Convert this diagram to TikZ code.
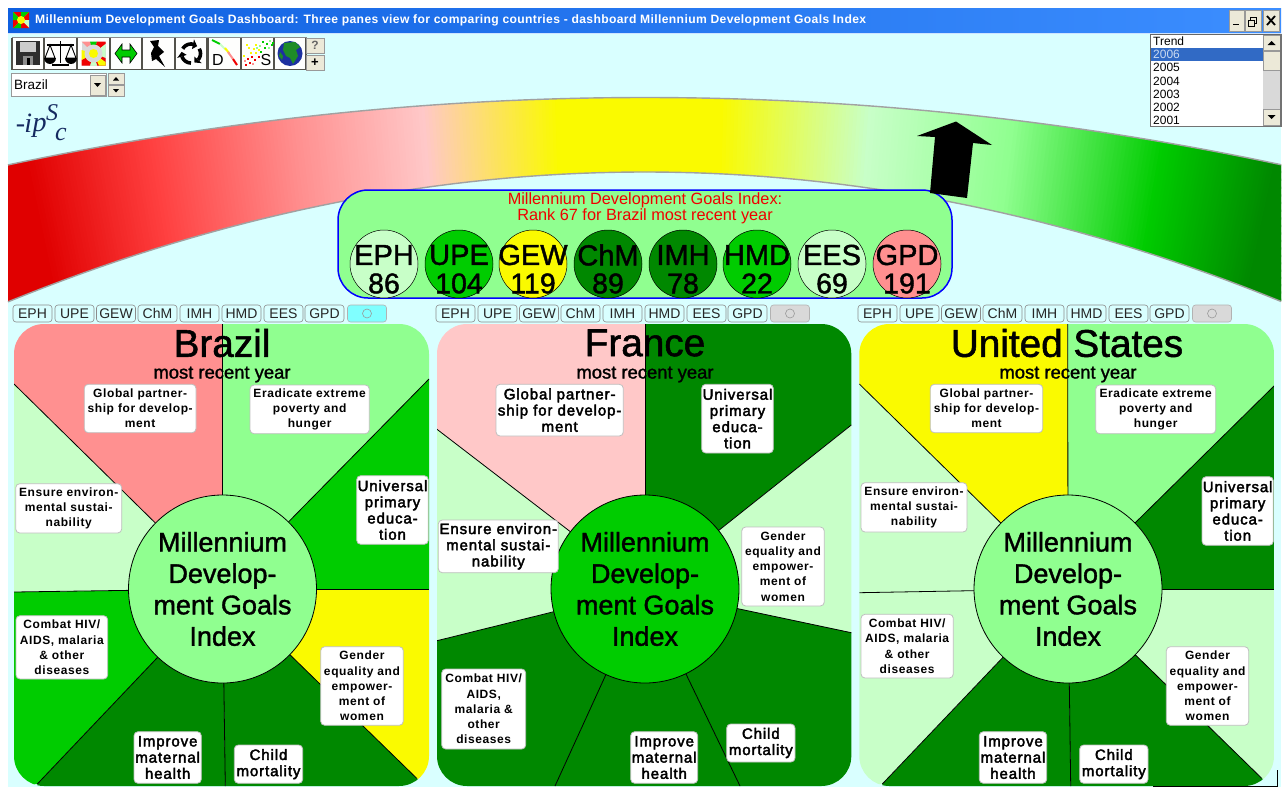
\documentclass[tikz,border=0pt]{standalone}
\usepackage{fontspec}
\setmainfont{Liberation Sans}
\newfontfamily\logofont{Liberation Serif}
\newfontfamily\heavyfont[FakeBold=1.4]{Liberation Sans}
\newfontfamily\midfont[FakeBold=2.6,LetterSpace=6]{Liberation Sans}
\newfontfamily\smallfont[LetterSpace=5]{Liberation Sans}
\newfontfamily\titlefont[LetterSpace=3]{Liberation Sans}
\usetikzlibrary{calc}
\definecolor{bgc}{HTML}{D9FFFF}
\definecolor{gpink}{HTML}{FF9090}
\definecolor{lpink}{HTML}{FFC8C8}
\definecolor{lgreen}{HTML}{C8FFC8}
\definecolor{mgreen}{HTML}{90FF90}
\definecolor{cgreen}{HTML}{00CC00}
\definecolor{dgreen}{HTML}{008800}
\definecolor{yel}{HTML}{FAFA00}
\definecolor{red0}{HTML}{E00000}
\definecolor{red1}{HTML}{FF4040}
\definecolor{pure}{HTML}{F00000}
\definecolor{winb}{HTML}{ECE9D8}
\definecolor{tbl}{HTML}{0F60E0}
\definecolor{tbr}{HTML}{3C8EFF}
\definecolor{sel}{HTML}{316AC5}
\definecolor{navy}{HTML}{152A60}
\definecolor{radio}{HTML}{80FFFF}
\definecolor{leaf}{HTML}{1E8C28}
\definecolor{sea}{HTML}{1C30A0}
\newcommand\fsz[2]{\fontsize{#1}{#2}\selectfont}
\tikzset{
  labbox/.style={draw=black!25,line width=.8pt,fill=white,rounded corners=4pt,inner sep=0pt,outer sep=0pt,align=center},
  smalllab/.style={labbox,font=\smallfont\fsz{12}{15.2}\bfseries},
  midlab/.style={labbox,font=\midfont\fsz{15}{16.2}\selectfont},
  hub/.style={circle,draw=black,line width=.8pt,minimum size=188pt,inner sep=0pt,align=center,font=\heavyfont\fsz{27}{31.4}\selectfont},
  spoke/.style={draw=black,line width=.8pt},
  goal/.style={circle,draw=black,line width=.5pt,minimum size=68pt,inner sep=0pt},
  goaltxt/.style={inner sep=0pt,font=\heavyfont\fsz{29}{29}\selectfont},
  goalnum/.style={inner sep=0pt,font=\heavyfont\fsz{28.5}{28.5}\selectfont},
  tabbtn/.style={draw=black!45,line width=.6pt,rounded corners=3pt,minimum width=39pt,minimum height=17pt,inner sep=0pt,outer sep=0pt,font=\fsz{14}{14}\selectfont,text=black!85},
  radiobtn/.style={tabbtn,draw=black!30},
  tool/.style={draw=black!45,fill=white!94!winb,line width=.6pt,minimum width=32pt,minimum height=32pt,inner sep=0pt,outer sep=0pt},
  winbtn/.style={draw=black!40,fill=winb,line width=.5pt,inner sep=0pt,outer sep=0pt},
  paneltitle/.style={inner sep=0pt,font=\heavyfont\fsz{38.7}{38.7}\selectfont},
  panelsub/.style={inner sep=0pt,font=\heavyfont\fsz{18.4}{18.4}\selectfont},
  yearrow/.style={inner sep=0pt,anchor=west,font=\fsz{12}{12}\selectfont},
  logoglyph/.style={inner sep=0pt,text=navy,font=\fsz{28}{28}\logofont\itshape}
}
\newcommand\lab[7]{%
  \pgfmathsetmacro\lcx{(#2+#4)/2}\pgfmathsetmacro\lcy{(#3+#5)/2}%
  \pgfmathsetmacro\lw{#4-#2}\pgfmathsetmacro\lh{#5-#3}%
  \node[#6,minimum width=\lw pt,minimum height=\lh pt] (#1) at (\lcx,\lcy) {#7};}
\newcommand\bandseg[4]{%
  \foreach \k in {0,...,40}{%
    \pgfmathsetmacro\xa{#1+(#2-#1)*\k/40}%
    \pgfmathsetmacro\xb{\xa+(#2-#1)/40+2}%
    \pgfmathsetmacro\pp{2.5*\k}%
    \fill[#4!\pp!#3] (645,3107.5) -- (\xa,90) -- (\xb,90) -- cycle;}}
\newcommand\tabrow[2]{%
  \foreach \t/\xx in {EPH/32.5,UPE/74.5,GEW/116,ChM/157.5,IMH/199.5,HMD/241.5,EES/283.5,GPD/324.5}{%
    \node[tabbtn] (tab#1\t) at ({\xx+#1},313.5) {\t};}
  \node[radiobtn,fill=#2] (tab#1o) at ({367+#1},313.5) {};
  \draw[black!40,line width=.6pt] (tab#1o.center) circle (4.5pt);}
\begin{document}
\begin{tikzpicture}[x=1pt,y=-1pt]
\useasboundingbox (0,0) rectangle (1284,787);
\fill[white] (0,0) rectangle (1284,787);
\fill[bgc] (8,33) rectangle (1281,787);
\shade[left color=tbl,right color=tbr] (8,8) rectangle (1281,33);
\draw[white!75!tbr,line width=1pt] (8,33) -- (1281,33);
\begin{scope}
\clip plot[domain=8:1281,samples=70] (\x,{97.5+1.661*((\x-645)/100)*((\x-645)/100)})
   -- plot[domain=1281:8,samples=70] (\x,{172+3.2*((\x-645)/100)*((\x-645)/100)}) -- cycle;
\fill[red0] (0,90) rectangle (20,310);
\bandseg{-70}{10}{red0}{red0}
\bandseg{10}{140}{red0}{red1}
\bandseg{140}{290}{red1}{gpink}
\bandseg{290}{420}{gpink}{lpink}
\bandseg{420}{555}{lpink}{yel}
\bandseg{555}{720}{yel}{yel}
\bandseg{720}{870}{yel}{lgreen}
\bandseg{870}{1015}{lgreen}{mgreen}
\bandseg{1015}{1170}{mgreen}{cgreen}
\bandseg{1170}{1290}{cgreen}{dgreen}
\bandseg{1290}{1360}{dgreen}{dgreen}
\end{scope}
\draw[black!37,line width=1.4pt] plot[domain=8:1281,samples=70] (\x,{97.5+1.661*((\x-645)/100)*((\x-645)/100)});
\draw[black!37,line width=1.4pt] plot[domain=8:1281,samples=70] (\x,{172+3.2*((\x-645)/100)*((\x-645)/100)});
\node[anchor=west,inner sep=0pt,text=white,font=\titlefont\fsz{12.13}{12}\bfseries] (wintitle) at (35,20.5) {Millennium Development Goals Dashboard: Three panes view for comparing countries - dashboard Millennium Development Goals Index};
% app icon
\fill[yel] (13,12) rectangle (29,28);
\fill[pure] (13,12) -- (21,20) -- (21,12) -- cycle;
\fill[cgreen] (21,12) -- (21,20) -- (29,12) -- cycle;
\fill[pure] (29,12) -- (21,20) -- (29,20) -- cycle;
\fill[lgreen] (29,20) -- (21,20) -- (29,28) -- cycle;
\fill[pure] (29,28) -- (21,20) -- (21,28) -- cycle;
\fill[cgreen] (21,28) -- (21,20) -- (13,28) -- cycle;
\fill[pure] (13,28) -- (21,20) -- (13,20) -- cycle;
\fill[cgreen] (13,20) -- (21,20) -- (13,12) -- cycle;
\fill[yel] (21,20) circle (4pt);
\lab{wmin}{1229}{10}{1244}{31}{winbtn}{}
\lab{wrest}{1245}{10}{1261}{31}{winbtn}{}
\lab{wclose}{1263}{10}{1279}{31}{winbtn}{}
\draw[black,line width=1.6pt] (1233,24.5) -- (1239,24.5);
\draw[black,line width=.8pt] (1250.5,17) rectangle (1256.5,23.5);
\fill[winb,draw=black,line width=.8pt] (1248,20) rectangle (1254,26);
\draw[black,line width=1.8pt] (1267,16) -- (1275,25) (1275,16) -- (1267,25);
% toolbar
\foreach \n/\xx in {save/28,scales/60.5,flower/93.5,swap/126,pin/158.5,recycle/191,dplot/224.5,splot/257.5,globe/290}{
  \node[tool] (\n) at (\xx,53.5) {};
  \draw[black!65!winb,line width=1.4pt] (\n.north west) -- (\n.south west) -- (\n.south east) -- (\n.north east);
}
\fill[black!82] (16,41) rectangle (40,65);
\fill[black!20] (20,42) rectangle (36,52);
\fill[black!45] (23,56) rectangle (33,65);
\fill[black] (27,58) rectangle (30,65);
\draw[black,line width=1.6pt] (60.5,41) -- (60.5,63);
\draw[black,line width=1.6pt] (47,45) -- (74,45);
\fill[black] (52,64) rectangle (69,66);
\draw[black,line width=.9pt] (50,45) -- (45,58) -- (55,58) -- cycle;
\draw[black,line width=.9pt] (71,45) -- (66,58) -- (76,58) -- cycle;
\fill[black] (44,58) arc[start angle=180,end angle=360,radius=6pt] -- cycle;
\fill[black] (65,58) arc[start angle=180,end angle=360,radius=6pt] -- cycle;
\fill[black!15] (81.5,41.5) rectangle (105.5,65.5);
\fill[gpink] (93.5,53.5) -- (81.5,41.5) -- (90,41.5) -- cycle;
\fill[cgreen] (93.5,53.5) -- (90,41.5) -- (97,41.5) -- cycle;
\fill[pure] (93.5,53.5) -- (97,41.5) -- (105.5,41.5) -- (105.5,44) -- cycle;
\fill[lgreen] (93.5,53.5) -- (105.5,44) -- (105.5,58) -- cycle;
\fill[pure] (93.5,53.5) -- (105.5,58) -- (105.5,65.5) -- (97,65.5) -- cycle;
\fill[yel] (93.5,53.5) -- (105.5,62) -- (105.5,65.5) -- (99,65.5) -- cycle;
\fill[lgreen] (93.5,53.5) -- (97,65.5) -- (90,65.5) -- cycle;
\fill[pure] (93.5,53.5) -- (90,65.5) -- (81.5,65.5) -- (81.5,60) -- cycle;
\fill[yel] (93.5,53.5) -- (81.5,60) -- (81.5,50) -- cycle;
\fill[black!15] (93.5,53.5) circle (9pt);
\fill[yel] (93.5,53.5) circle (4.5pt);
\fill[cgreen,draw=black,line width=.6pt] (115,53.5) -- (122,44) -- (122,50) -- (130,50) -- (130,44) -- (137,53.5) -- (130,63) -- (130,57) -- (122,57) -- (122,63) -- cycle;
% pin
\fill[black] (150,41) -- (159,40) -- (158,46) -- (164,52) -- (159,56) -- (165,67) -- (156,59) -- (152,61) -- (151,53) -- (154,47) -- cycle;
% recycle
\foreach \a in {-30,90,210}{
  \draw[black,line width=3.6pt] plot[domain=\a:\a+72,samples=8] ({191+9.5*cos(\x)},{53.5+9.5*sin(\x)});
  \fill[black] ({191+14.5*cos(\a+72)},{53.5+14.5*sin(\a+72)}) -- ({191+4.5*cos(\a+72)},{53.5+4.5*sin(\a+72)}) -- ({191+9.5*cos(\a+100)},{53.5+9.5*sin(\a+100)}) -- cycle;
}
\draw[cgreen,line width=2pt] (212,40) -- (220,44);
\draw[lgreen,line width=2pt] (220,44) -- (226,50);
\draw[yel,line width=2pt] (225,48) -- (229,53);
\draw[gpink,line width=2pt] (228,52) -- (233,59);
\draw[pure,line width=2pt] (233,59) -- (237,65);
\node[inner sep=0pt,font=\fsz{16}{16}\selectfont] (dlet) at (218,60) {D};
\foreach \px/\py/\c in {262/41/cgreen,266/43/cgreen,269/40/mgreen,271/44/cgreen,259/45/mgreen,264/47/cgreen,268/47/mgreen,272/42/cgreen,255/44/yel,258/49/yel,253/48/yel,250/52/yel,255/52/yel,260/51/cgreen,248/47/yel,246/44/yel,251/56/pure,247/58/pure,244/60/gpink,249/62/pure,254/59/pure,245/64/pure,252/63/gpink,258/56/pure,243/55/yel,256/47/mgreen}{
  \fill[\c] (\px,\py) rectangle ++(1.6,1.6);
}
\node[inner sep=0pt,font=\fsz{16}{16}\selectfont] (slet) at (266,60) {S};
\fill[sea] (290,53.5) circle (12.5pt);
\fill[leaf] (284,43) -- (295,42) -- (300,47) -- (296,50) -- (298,56) -- (293,64) -- (290,58) -- (286,56) -- (283,50) -- cycle;
\fill[leaf] (280,52) -- (283,56) -- (282,60) -- (279,56) -- cycle;
\lab{hlp}{306}{38}{324}{53}{winbtn,font=\fsz{12}{12}\bfseries,text=black!60}{?}
\lab{plusb}{306}{55}{324}{70}{winbtn,font=\fsz{13}{13}\bfseries}{+}
\lab{combo}{11}{73}{106}{96}{draw=black!40,fill=white,line width=.8pt,inner sep=0pt}{}
\node[anchor=west,inner sep=0pt,font=\fsz{13.5}{13.5}\selectfont] (country) at (14,85) {Brazil};
\lab{comboarrow}{90}{75}{105}{95}{winbtn}{}
\fill[black] (94,83) -- (101,83) -- (97.5,87) -- cycle;
\lab{spinup}{108}{73}{124}{84}{winbtn}{}
\lab{spindn}{108}{85}{124}{96}{winbtn}{}
\fill[black] (113,80.5) -- (119,80.5) -- (116,77) -- cycle;
\fill[black] (113,89) -- (119,89) -- (116,92.5) -- cycle;
% logo
\node[logoglyph] (logoi) at (24,123) {-\kern-1pt i};
\node[logoglyph] (logop) at (39.5,128) {p};
\node[logoglyph,font=\fsz{24}{24}\logofont\itshape] (logos) at (52,113) {S};
\node[logoglyph,font=\fsz{26}{26}\logofont\itshape] (logoc) at (61,134) {c};
% year list
\draw[black!60,line width=1pt,fill=white] (1150.5,34.5) rectangle (1280.5,126.5);
\fill[sel] (1151,47.5) rectangle (1263,60.5);
\foreach \y/\yr/\c in {41/Trend/black,54/2006/white!75!sel,67.5/2005/black,81/2004/black,94/2003/black,107/2002/black,120/2001/black}{
  \node[yearrow,text=\c] (yr\yr) at (1153,\y) {\yr};
}
\fill[white!85!black] (1263,35) rectangle (1280,125);
\lab{sup}{1263}{35}{1280}{50}{winbtn}{}
\lab{sth}{1263}{51}{1280}{70}{winbtn}{}
\lab{sdn}{1263}{109}{1280}{125}{winbtn}{}
\fill[black] (1267.5,45) -- (1275.5,45) -- (1271.5,41) -- cycle;
\fill[black] (1267.5,115) -- (1275.5,115) -- (1271.5,119) -- cycle;
\draw[black!55,line width=1.2pt] (1150,126.5) -- (1281,126.5) -- (1281,34);
% summary panel
\node[draw=blue,fill=mgreen,line width=1.5pt,rounded corners=30pt,minimum width=614pt,minimum height=108pt,inner sep=0pt] (summary) at (645,244) {};
\node[inner sep=0pt,align=center,text=pure,font=\fsz{16.3}{14.2}\selectfont] (sumtitle) at (645,208.5) {Millennium Development Goals Index:\\Rank 67 for Brazil most recent year};
\foreach \t/\n/\xx/\c in {EPH/86/384/lgreen,UPE/104/459/cgreen,GEW/119/533/yel,ChM/89/608/dgreen,IMH/78/683/dgreen,HMD/22/757/cgreen,EES/69/832/lgreen,GPD/191/907/gpink}{
  \node[goal,fill=\c] (g\t) at (\xx,264) {};
  \node[goaltxt] (t\t) at (\xx,255) {\t};
  \node[goalnum] (n\t) at (\xx,283.5) {\n};
}
\fill[black] (956,121.5) -- (992,145) -- (973,143) -- (967,198) -- (930,193) -- (935,137) -- (917,136) -- cycle;
\tabrow{0}{radio}
\tabrow{423}{black!15}
\tabrow{845}{black!15}
% ---------- Brazil
\coordinate (c1) at (222.5,589);
\begin{scope}
\clip[rounded corners=30pt] (14,324) rectangle (429,786);
\fill[gpink] (c1) -- (222.5,324) -- (14,324) -- (14,384) -- cycle;
\fill[mgreen] (c1) -- (222.5,324) -- (429,324) -- (429,379) -- cycle;
\fill[cgreen] (c1) -- (429,379) -- (429,589) -- cycle;
\fill[yel] (c1) -- (429,589) -- (429,786) -- (416.7,778.3) -- cycle;
\fill[dgreen] (c1) -- (416.7,778.3) -- (429,786) -- (225.3,786) -- cycle;
\fill[dgreen] (c1) -- (225.3,786) -- (37.3,786) -- (37.3,784) -- cycle;
\fill[cgreen] (c1) -- (37.3,784) -- (14,786) -- (14,592) -- cycle;
\fill[lgreen] (c1) -- (14,592) -- (14,384) -- cycle;
\foreach \e in {(222.5,324),(429,379),(429,589),(416.7,778.3),(225.3,786),(37.3,784),(14,592),(14,384)}{\draw[spoke] (c1) -- \e;}
\end{scope}
\node[paneltitle] (p1t) at (222,343) {Brazil};
\node[panelsub] (p1s) at (222,374.5) {most recent year};
\node[hub,fill=mgreen] (hub1) at (c1) {Millennium\\Develop-\\ment Goals\\Index};
\lab{b1}{84.3}{384.3}{196}{432.7}{smalllab}{Global partner-\\ship for develop-\\ment}
\lab{b2}{250}{385}{369.3}{433.7}{smalllab}{Eradicate extreme\\poverty and\\hunger}
\lab{b3}{356.7}{475.7}{428.3}{544.3}{midlab}{Universal\\primary\\educa-\\tion}
\lab{b4}{320.7}{646.7}{403.3}{725.3}{smalllab}{Gender\\equality and\\empower-\\ment of\\women}
\lab{b5}{234.3}{745}{302.7}{783.3}{midlab}{Child\\mortality}
\lab{b6}{134}{731.7}{201.3}{783.3}{midlab}{Improve\\maternal\\health}
\lab{b7}{16}{615.7}{107.7}{679}{smalllab}{Combat HIV/\\AIDS, malaria\\\& other\\diseases}
\lab{b8}{15.7}{483.7}{121.7}{533}{smalllab}{Ensure environ-\\mental sustai-\\nability}
% ---------- France
\coordinate (c2) at (645,589);
\begin{scope}
\clip[rounded corners=30pt] (437,324) rectangle (851.3,786);
\fill[lpink] (c2) -- (645,324) -- (437,324) -- (437,429.3) -- cycle;
\fill[dgreen] (c2) -- (645,324) -- (851.3,324) -- (851.3,425) -- cycle;
\fill[lgreen] (c2) -- (851.3,425) -- (851.3,632.7) -- cycle;
\fill[dgreen] (c2) -- (851.3,632.7) -- (851.3,786) -- (740,786) -- cycle;
\fill[dgreen] (c2) -- (740,786) -- (555,786) -- cycle;
\fill[dgreen] (c2) -- (555,786) -- (437,786) -- (437,640.7) -- cycle;
\fill[lgreen] (c2) -- (437,640.7) -- (437,429.3) -- cycle;
\foreach \e in {(645,324),(851.3,425),(851.3,632.7),(740,786),(555,786),(437,640.7),(437,429.3)}{\draw[spoke] (c2) -- \e;}
\end{scope}
\node[paneltitle] (p2t) at (645,343) {France};
\node[panelsub] (p2s) at (645,374.5) {most recent year};
\node[hub,fill=cgreen] (hub2) at (c2) {Millennium\\Develop-\\ment Goals\\Index};
\lab{f1}{496}{384.3}{623.3}{436}{midlab}{Global partner-\\ship for develop-\\ment}
\lab{f3}{701.7}{384.3}{773.3}{453}{midlab}{Universal\\primary\\educa-\\tion}
\lab{f4}{741.7}{527}{824.3}{606}{smalllab}{Gender\\equality and\\empower-\\ment of\\women}
\lab{f5}{726.7}{724}{795}{762}{midlab}{Child\\mortality}
\lab{f6}{630.7}{731.7}{697.7}{783.3}{midlab}{Improve\\maternal\\health}
\lab{f7}{441.7}{669}{525.7}{749}{smalllab}{Combat HIV/\\AIDS,\\malaria \&\\other\\diseases}
\lab{f8}{438.3}{520}{558.3}{572.7}{midlab}{Ensure environ-\\mental sustai-\\nability}
% ---------- United States
\coordinate (c3) at (1068,589);
\begin{scope}
\clip[rounded corners=30pt] (859.3,324) rectangle (1274,786);
\fill[yel] (c3) -- (1067.7,324) -- (859.3,324) -- (859.3,384) -- cycle;
\fill[mgreen] (c3) -- (1067.7,324) -- (1274,324) -- (1274,386) -- cycle;
\fill[dgreen] (c3) -- (1274,386) -- (1274,589) -- cycle;
\fill[lgreen] (c3) -- (1274,589) -- (1274,786) -- (1261.7,778.3) -- cycle;
\fill[dgreen] (c3) -- (1261.7,778.3) -- (1274,786) -- (1070.7,786) -- cycle;
\fill[dgreen] (c3) -- (1070.7,786) -- (882.3,786) -- (882.3,784) -- cycle;
\fill[lgreen] (c3) -- (882.3,784) -- (859.3,786) -- (859.3,592.7) -- cycle;
\fill[lgreen] (c3) -- (859.3,592.7) -- (859.3,384) -- cycle;
\foreach \e in {(1067.7,324),(1274,386),(1274,589),(1261.7,778.3),(1070.7,786),(882.3,784),(859.3,592.7),(859.3,384)}{\draw[spoke] (c3) -- \e;}
\end{scope}
\node[paneltitle] (p3t) at (1067,343) {United States};
\node[panelsub] (p3s) at (1068,374.5) {most recent year};
\node[hub,fill=mgreen] (hub3) at (c3) {Millennium\\Develop-\\ment Goals\\Index};
\lab{u1}{930.3}{384.3}{1042.7}{432.7}{smalllab}{Global partner-\\ship for develop-\\ment}
\lab{u2}{1095.7}{385}{1215.7}{433.7}{smalllab}{Eradicate extreme\\poverty and\\hunger}
\lab{u3}{1202}{476.7}{1273.3}{545.3}{midlab}{Universal\\primary\\educa-\\tion}
\lab{u4}{1166.3}{646.7}{1248.7}{725.3}{smalllab}{Gender\\equality and\\empower-\\ment of\\women}
\lab{u5}{1079.7}{745}{1148}{783.3}{midlab}{Child\\mortality}
\lab{u6}{979.3}{731.7}{1046.7}{783.3}{midlab}{Improve\\maternal\\health}
\lab{u7}{861}{614.3}{953.3}{678}{smalllab}{Combat HIV/\\AIDS, malaria\\\& other\\diseases}
\lab{u8}{861}{482.7}{967}{532}{smalllab}{Ensure environ-\\mental sustai-\\nability}
\draw[black,line width=.7pt] (1277,770) -- (1277,786.5) -- (1153,786.5);
\end{tikzpicture}
\end{document}
